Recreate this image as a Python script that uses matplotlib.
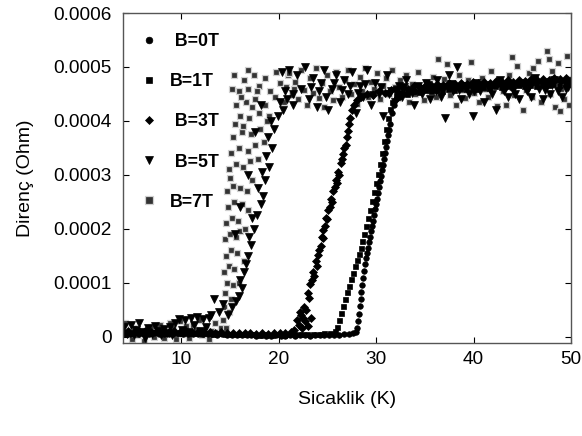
import numpy as np
import matplotlib
matplotlib.use('Agg')
import matplotlib.pyplot as plt

plt.rcParams['font.family'] = ['Liberation Sans', 'DejaVu Sans']

# (T [K], R [1e-4 Ohm])
b0T = [(4.2, 0.05), (4.7, 0.04), (5.2, 0.06), (5.7, 0.05), (6.2, 0.04), (6.7, 0.05), (7.2, 0.06), (7.7, 0.04),
       (8.2, 0.05), (8.7, 0.05), (9.2, 0.04), (9.7, 0.06), (10.2, 0.05), (10.7, 0.04), (11.2, 0.05), (11.7, 0.04),
       (12.2, 0.05), (12.7, 0.04), (13.2, 0.04), (13.7, 0.03), (14.2, 0.04), (14.7, 0.03), (15.2, 0.03), (15.7, 0.02),
       (16.2, 0.03), (16.7, 0.02), (17.2, 0.02), (17.7, 0.01), (18.2, 0.02), (18.7, 0.01), (19.2, 0.01), (19.7, 0.02),
       (20.2, 0.01), (20.7, 0.01), (21.2, 0.02), (21.7, 0.01), (22.2, 0.02), (22.7, 0.02), (23.2, 0.01), (23.7, 0.02),
       (24.2, 0.02), (24.7, 0.03), (25.2, 0.02), (25.7, 0.03), (26.2, 0.03), (26.7, 0.04), (27.2, 0.05), (27.6, 0.06),
       (27.9, 0.08), (28.0, 0.15), (28.1, 0.28), (28.2, 0.42), (28.3, 0.56), (28.4, 0.70), (28.5, 0.83), (28.6, 0.96),
       (28.7, 1.09), (28.8, 1.22), (28.9, 1.35), (29.0, 1.45), (29.1, 1.55), (29.2, 1.65), (29.3, 1.75), (29.4, 1.85),
       (29.5, 1.95), (29.6, 2.05), (29.7, 2.15), (29.8, 2.25), (29.9, 2.36), (30.0, 2.46), (30.1, 2.56), (30.2, 2.67),
       (30.3, 2.77), (30.4, 2.88), (30.5, 2.98), (30.6, 3.09), (30.7, 3.19), (30.8, 3.30), (30.9, 3.40), (31.0, 3.51),
       (31.1, 3.62), (31.2, 3.73), (31.3, 3.84), (31.4, 3.95), (31.6, 4.15), (31.8, 4.30), (32.0, 4.40),
       (32.4, 4.45), (32.8, 4.50), (33.2, 4.52), (33.6, 4.55), (34.0, 4.56), (34.5, 4.58), (35.0, 4.60), (35.5, 4.59),
       (36.0, 4.61), (36.5, 4.62), (37.0, 4.62), (37.5, 4.63), (38.0, 4.64), (38.5, 4.63), (39.0, 4.65), (39.5, 4.66),
       (40.0, 4.65), (40.5, 4.67), (41.0, 4.66), (41.5, 4.68), (42.0, 4.67), (42.5, 4.69), (43.0, 4.68), (43.5, 4.70),
       (44.0, 4.69), (44.5, 4.71), (45.0, 4.70), (45.5, 4.72), (46.0, 4.71), (46.5, 4.73), (47.0, 4.72), (47.5, 4.74),
       (48.0, 4.73), (48.5, 4.75), (49.0, 4.74), (49.5, 4.76), (50.0, 4.75)]

b1T = [(4.3, 0.08), (4.9, 0.07), (5.5, 0.09), (6.1, 0.08), (6.7, 0.07), (7.3, 0.08), (7.9, 0.09), (8.5, 0.07),
       (9.1, 0.08), (9.7, 0.07), (10.3, 0.08), (10.9, 0.06), (11.5, 0.07), (12.1, 0.06), (12.7, 0.07), (13.3, 0.05),
       (13.9, 0.06), (14.5, 0.05), (15.1, 0.05), (15.7, 0.04), (16.3, 0.05), (16.9, 0.04), (17.5, 0.04), (18.1, 0.03),
       (18.7, 0.04), (19.3, 0.03), (19.9, 0.04), (20.5, 0.03), (21.1, 0.04), (21.7, 0.04), (22.3, 0.05), (22.9, 0.04),
       (23.5, 0.05), (24.1, 0.05), (24.7, 0.06), (25.3, 0.07), (25.8, 0.10),
       (26.0, 0.18), (26.2, 0.30), (26.4, 0.44), (26.6, 0.57), (26.8, 0.70), (27.0, 0.82), (27.2, 0.94), (27.4, 1.06),
       (27.6, 1.18), (27.8, 1.30), (28.0, 1.42), (28.2, 1.54), (28.4, 1.65), (28.6, 1.77), (28.8, 1.90), (29.0, 2.05),
       (29.2, 2.20), (29.4, 2.35), (29.6, 2.51), (29.8, 2.68), (30.0, 2.85), (30.2, 3.02), (30.4, 3.20), (30.6, 3.40),
       (30.8, 3.62), (31.0, 3.85), (31.2, 4.05), (31.4, 4.22), (31.6, 4.35),
       (32.0, 4.48), (32.6, 4.52), (33.2, 4.50), (33.8, 4.55), (34.4, 4.53), (35.0, 4.57), (35.6, 4.55), (36.2, 4.58),
       (36.8, 4.56), (37.4, 4.60), (38.0, 4.58), (38.6, 4.61), (39.2, 4.59), (39.8, 4.62), (40.4, 4.60), (41.0, 4.63),
       (41.6, 4.61), (42.2, 4.64), (42.8, 4.62), (43.4, 4.65), (44.0, 4.63), (44.6, 4.66), (45.2, 4.64), (45.8, 4.67),
       (46.4, 4.65), (47.0, 4.68), (47.6, 4.66), (48.2, 4.69), (48.8, 4.67), (49.4, 4.70), (49.9, 4.68)]

b3T = [(4.5, 0.10), (5.1, 0.09), (5.7, 0.11), (6.3, 0.10), (6.9, 0.09), (7.5, 0.10), (8.1, 0.11), (8.7, 0.09),
       (9.3, 0.10), (9.9, 0.09), (10.5, 0.10), (11.1, 0.08), (11.7, 0.09), (12.3, 0.08), (12.9, 0.09), (13.5, 0.07),
       (14.1, 0.08), (14.7, 0.07), (15.3, 0.06), (15.9, 0.07), (16.5, 0.06), (17.1, 0.06), (17.7, 0.05), (18.3, 0.06),
       (18.9, 0.05), (19.5, 0.06), (20.1, 0.06), (20.7, 0.07), (21.3, 0.08),
       (21.6, 0.12), (21.9, 0.30), (22.1, 0.22), (22.3, 0.40), (22.5, 0.35), (22.6, 0.55), (22.8, 0.50), (23.0, 0.80),
       (23.1, 0.72), (23.2, 0.98), (23.4, 1.05), (23.5, 1.20), (23.6, 1.12), (23.8, 1.40), (23.9, 1.30), (24.0, 1.52),
       (24.1, 1.60), (24.3, 1.68), (24.4, 1.85), (24.5, 1.82), (24.6, 1.98), (24.8, 2.05), (24.9, 2.20), (25.0, 2.18),
       (25.1, 2.35), (25.3, 2.40), (25.4, 2.55), (25.5, 2.50), (25.6, 2.70), (25.8, 2.78), (25.9, 2.90), (26.0, 2.85),
       (26.1, 3.05), (26.2, 3.00), (26.4, 3.22), (26.5, 3.30), (26.6, 3.38), (26.7, 3.50), (26.9, 3.55), (27.0, 3.70),
       (27.1, 3.82), (27.2, 3.95), (27.3, 4.05), (27.5, 4.20), (27.7, 4.30), (28.0, 4.38),
       (22.4, 0.15), (22.7, 0.28), (23.0, 0.20), (22.2, 0.45), (23.3, 0.35),
       (28.5, 4.45), (29.1, 4.50), (29.7, 4.48), (30.3, 4.55), (30.9, 4.52), (31.5, 4.58), (32.1, 4.56), (32.7, 4.62),
       (33.3, 4.60), (33.9, 4.64), (34.5, 4.62), (35.1, 4.66), (35.7, 4.64), (36.3, 4.68), (36.9, 4.66), (37.5, 4.70),
       (38.1, 4.68), (38.7, 4.71), (39.3, 4.69), (39.9, 4.72), (40.5, 4.70), (41.1, 4.73), (41.7, 4.71), (42.3, 4.74),
       (42.9, 4.72), (43.5, 4.75), (44.1, 4.73), (44.7, 4.76), (45.3, 4.74), (45.9, 4.77), (46.5, 4.75), (47.1, 4.78),
       (47.7, 4.76), (48.3, 4.79), (48.9, 4.77), (49.5, 4.80)]

b5T = [(4.1, 0.18), (4.4, 0.05), (4.8, 0.22), (5.1, 0.02), (5.4, 0.12), (5.7, 0.25), (6.0, 0.08), (6.3, -0.02),
       (6.6, 0.15), (7.0, 0.04), (7.3, 0.20), (7.6, 0.10), (7.9, 0.02), (8.2, 0.14), (8.5, 0.06), (8.8, 0.18),
       (9.1, 0.03), (9.4, 0.26), (9.8, 0.33), (10.1, 0.12), (10.4, 0.30), (10.7, 0.08), (11.0, 0.35), (11.3, 0.22),
       (11.6, 0.36), (11.9, 0.10), (12.2, 0.32), (12.5, 0.18), (12.8, 0.35), (13.1, 0.40),
       (13.4, 0.69), (13.9, 0.45), (14.3, 0.60), (14.8, 0.40), (15.2, 0.55), (15.6, 0.65), (15.9, 0.75), (16.2, 0.90),
       (16.0, 1.05), (16.4, 1.20), (16.6, 1.35), (16.9, 1.50), (17.2, 1.70), (17.0, 1.85), (17.5, 2.00), (17.3, 2.20),
       (17.8, 2.25), (18.2, 2.45), (18.4, 2.60), (17.9, 2.75), (18.6, 2.90), (18.3, 3.05), (19.0, 3.15), (18.7, 3.35),
       (19.3, 3.50), (18.9, 3.70), (19.5, 3.85), (19.2, 4.00), (19.9, 4.10), (20.4, 4.20), (20.1, 4.35), (20.9, 4.40),
       (21.5, 4.50), (15.5, 1.90), (16.0, 2.40), (16.8, 3.00), (17.6, 3.80), (18.2, 4.30),
       (20.3, 4.90), (20.7, 4.55), (21.1, 4.95), (21.5, 4.30), (21.9, 4.85), (22.3, 4.60), (22.7, 5.00), (23.1, 4.40),
       (23.5, 4.80), (23.9, 4.25), (24.3, 4.70), (24.7, 4.95), (25.1, 4.20), (25.5, 4.60), (25.9, 4.85), (26.3, 4.35),
       (26.7, 4.75), (27.1, 4.50), (27.5, 4.90), (27.9, 4.15), (28.3, 4.65), (28.7, 4.45), (29.1, 4.95), (29.5, 4.30),
       (29.9, 4.70), (30.3, 4.50), (30.7, 4.10), (31.1, 4.85), (31.5, 4.55), (31.9, 4.35), (32.3, 4.65), (32.7, 4.45),
       (33.1, 4.75), (33.5, 4.55), (33.9, 4.30), (34.3, 4.65), (34.7, 4.50), (35.1, 4.70), (35.5, 4.40), (35.9, 4.60),
       (36.3, 4.75), (36.7, 4.45), (37.1, 4.05), (37.5, 4.85), (37.9, 4.55), (38.3, 5.00), (38.7, 4.40), (39.1, 4.65),
       (39.5, 4.50), (39.9, 4.10), (40.3, 4.70), (40.7, 4.55), (41.1, 4.35), (41.5, 4.65), (41.9, 4.50), (42.3, 4.20),
       (42.7, 4.75), (43.1, 4.55), (43.5, 4.45), (43.9, 4.65), (44.3, 4.50), (44.7, 4.40), (45.1, 4.70), (45.5, 4.55),
       (45.9, 4.45), (46.3, 4.80), (46.7, 4.60), (47.1, 4.40), (47.5, 4.65), (47.9, 4.50), (48.3, 4.75), (48.7, 4.55),
       (49.1, 4.45), (49.5, 4.60), (49.9, 4.70),
       (23.3, 4.62), (24.1, 4.55), (24.9, 4.45), (25.7, 4.70), (26.5, 4.58), (27.3, 4.65), (28.1, 4.52), (28.9, 4.68),
       (29.7, 4.48), (30.5, 4.62), (31.3, 4.50), (32.1, 4.58), (32.9, 4.62), (33.7, 4.52), (34.5, 4.60), (35.3, 4.66),
       (36.1, 4.55), (36.9, 4.62), (37.7, 4.68), (38.5, 4.58), (39.3, 4.64), (40.1, 4.56), (40.9, 4.66), (41.7, 4.60),
       (42.5, 4.70), (43.3, 4.62), (44.1, 4.58), (44.9, 4.68), (45.7, 4.62), (46.5, 4.70), (47.3, 4.58), (48.1, 4.66),
       (48.9, 4.72), (49.7, 4.62)]

b7T = [(4.2, 0.25), (4.5, 0.08), (4.9, -0.05), (5.2, 0.15), (5.5, 0.02), (5.9, 0.10), (6.2, -0.08), (6.5, 0.05),
       (6.9, 0.18), (7.2, 0.00), (7.5, 0.12), (7.8, 0.22), (8.2, -0.03), (8.5, 0.08), (8.8, 0.25), (9.2, 0.15),
       (9.5, -0.05), (9.9, 0.28), (10.2, 0.05), (10.5, 0.20), (10.8, -0.02), (11.2, 0.22), (11.5, 0.12), (11.8, 0.30),
       (12.1, 0.03), (12.5, 0.18), (12.8, -0.05), (13.1, 0.10), (13.5, 0.25), (13.8, 0.08), (14.1, 0.15),
       (14.3, 0.30), (14.6, 0.15), (14.4, 0.55), (14.9, 0.45), (14.5, 0.80), (15.1, 0.70), (14.7, 1.00), (15.3, 0.95),
       (14.4, 1.20), (14.9, 1.30), (15.4, 1.25), (14.6, 1.50), (15.1, 1.60), (15.7, 1.55), (14.5, 1.80), (15.0, 1.90),
       (15.6, 1.85), (16.0, 1.95), (14.6, 2.10), (15.2, 2.20), (15.8, 2.15), (14.8, 2.40), (15.4, 2.50), (16.2, 2.45),
       (14.7, 2.70), (15.3, 2.80), (16.0, 2.75), (16.7, 2.70), (15.0, 2.95), (14.9, 3.10), (15.6, 3.20), (16.3, 3.15),
       (17.1, 3.25), (15.1, 3.40), (15.9, 3.50), (16.8, 3.45), (17.6, 3.55), (15.3, 3.70), (16.2, 3.80), (17.2, 3.75),
       (18.1, 3.85), (15.5, 3.95), (16.0, 4.10), (17.0, 4.05), (18.0, 4.15), (19.0, 4.10), (15.6, 4.30), (16.6, 4.35),
       (17.6, 4.40), (18.6, 4.30), (19.6, 4.45), (15.9, 4.55), (16.9, 4.60), (18.0, 4.65), (19.1, 4.55), (20.1, 4.70),
       (16.4, 4.75), (17.5, 4.85), (18.6, 4.80), (19.7, 4.90), (21.0, 4.85), (16.1, 4.45), (17.3, 4.25), (20.5, 4.35),
       (21.6, 4.60), (16.5, 2.00), (16.9, 2.35), (17.3, 2.90), (17.9, 3.30), (18.5, 3.60), (16.4, 1.40), (15.9, 1.00),
       (16.3, 3.90), (18.8, 4.00), (17.8, 4.55), (15.2, 4.60), (15.4, 4.85), (16.8, 4.95),
       (20.8, 4.62), (21.1, 4.88), (21.4, 4.48), (21.7, 4.72), (22.0, 4.40), (22.3, 4.95), (22.6, 4.58),
       (22.9, 4.30), (23.2, 4.80), (23.5, 4.52), (23.8, 4.98), (24.1, 4.42), (24.4, 4.70), (24.7, 4.25), (25.0, 4.85),
       (25.3, 4.55), (25.6, 4.38), (25.9, 4.90), (26.2, 4.62), (26.5, 4.45), (26.8, 4.78), (27.1, 4.95), (27.4, 4.50),
       (27.7, 4.68), (28.0, 4.32), (28.3, 4.82), (28.6, 4.55), (28.9, 4.98), (29.2, 4.45), (29.5, 4.72), (29.8, 4.60),
       (30.1, 4.88), (30.4, 4.40), (30.7, 4.65), (31.0, 4.80), (31.3, 4.50), (31.6, 4.95), (31.9, 4.62), (32.2, 4.42),
       (32.5, 4.75), (32.8, 4.55), (33.1, 4.85), (33.4, 4.35), (33.7, 4.68), (34.0, 4.50), (34.3, 4.90), (34.6, 4.60),
       (34.9, 4.38), (35.2, 4.72), (35.5, 4.55), (35.8, 4.82), (36.1, 4.45), (36.4, 5.15), (36.7, 4.62), (37.0, 4.78),
       (37.3, 5.05), (37.6, 4.48), (37.9, 4.70), (38.2, 4.30), (38.5, 4.85), (38.8, 4.58), (39.1, 4.42), (39.4, 4.75),
       (39.7, 5.10), (40.0, 4.52), (40.3, 4.68), (40.6, 4.35), (40.9, 4.80), (41.2, 4.60), (41.5, 4.45), (41.8, 4.92),
       (42.1, 4.65), (42.4, 4.28), (42.7, 4.72), (43.0, 4.55), (43.3, 4.30), (43.6, 4.85), (43.9, 4.62), (44.2, 4.48),
       (44.5, 5.02), (44.8, 4.70), (45.1, 4.20), (45.4, 4.58), (45.7, 4.88), (46.0, 4.45), (46.3, 4.75), (46.6, 5.12),
       (46.9, 4.35), (47.2, 4.65), (47.5, 5.30), (47.8, 4.50), (48.1, 4.92), (48.4, 4.25), (48.7, 5.08), (49.0, 4.60),
       (49.3, 4.40), (49.6, 5.20), (49.9, 4.78), (49.8, 4.30), (48.9, 4.18), (47.7, 5.15), (46.1, 4.98), (44.0, 5.18)]

# the leading spaces reproduce the uneven text indent of the original legend
labels = [' B=0T', 'B=1T', ' B=3T', ' B=5T', 'B=7T']
series = [b0T, b1T, b3T, b5T, b7T]
yticks = [0, 0.0001, 0.0002, 0.0003, 0.0004, 0.0005, 0.0006]
ytick_labels = ['0', '0.0001', '0.0002', '0.0003', '0.0004', '0.0005', '0.0006']
xticks = [10, 20, 30, 40, 50]

styles = [
    dict(marker='o', ms=4.0, mfc='black', mec='black', mew=0.5),
    dict(marker='s', ms=3.6, mfc='black', mec='black', mew=0.5),
    dict(marker='D', ms=3.6, mfc='black', mec='black', mew=0.5),
    dict(marker='v', ms=5.2, mfc='black', mec='black', mew=0.5),
    dict(marker='s', ms=5.0, mfc='#333333', mec='#d0d0d0', mew=0.9),
]

fig = plt.figure(figsize=(5.82, 4.36), dpi=100)
ax = fig.add_axes([0.211, 0.2133, 0.770, 0.7567])

# 7T first so the filled markers end up on top
order = [4, 3, 2, 1, 0]
handles = [None] * 5
for i in order:
    d = np.array(series[i])
    h, = ax.plot(d[:, 0], d[:, 1] * 1e-4, linestyle='none', label=labels[i], **styles[i])
    handles[i] = h

ax.set_xlim(4, 50)
ax.set_ylim(-0.000012, 0.0006)
ax.set_xticks(xticks)
ax.set_yticks(yticks)
ax.set_yticklabels(ytick_labels)
ax.tick_params(direction='in', top=True, right=True, length=4, width=0.8,
               labelsize=13.7, colors='black')
ax.tick_params(axis='x', pad=6)
ax.tick_params(axis='y', pad=8)
for s in ax.spines.values():
    s.set_color('#555555')
    s.set_linewidth(1.0)

ax.set_xlabel('Sicaklik (K)', fontsize=14, labelpad=16)
ax.set_ylabel('Direnç (Ohm)', fontsize=14, labelpad=14)

ax.legend(handles=handles, labels=labels, loc='upper left', bbox_to_anchor=(0.0386, 0.939),
          frameon=False, prop={'weight': 'bold', 'size': 12.8}, handlelength=1.0,
          handletextpad=0.66, labelspacing=1.3, borderpad=0, borderaxespad=0, markerscale=1.2)

fig.savefig('out.png', dpi=100)
